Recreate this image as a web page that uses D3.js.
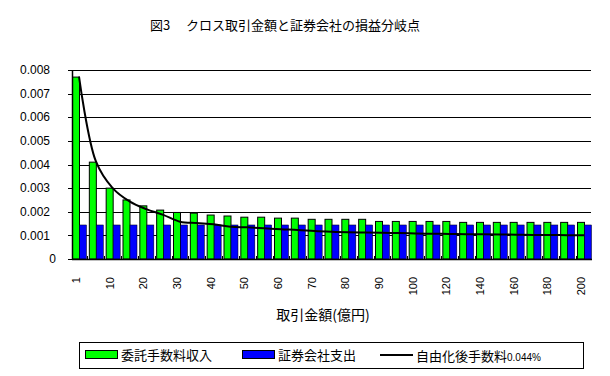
<!DOCTYPE html>
<html>
<head>
<meta charset="utf-8">
<script src="https://cdn.jsdelivr.net/npm/d3@7"></script>
<style>
  body { margin: 0; background: #fff; }
  text { font-family: "Liberation Sans", Arial, "Noto Sans CJK JP", sans-serif; fill: #000; }
  .jp { font-family: "Noto Sans CJK JP", sans-serif; }
</style>
</head>
<body>
<div id="chart"></div>
<script>
// 取引金額(億円)
const amounts = [1, 5, 10, 15, 20, 25, 30, 35, 40, 45, 50, 55, 60, 65, 70, 75, 80, 85, 90, 95, 100,
  110, 120, 130, 140, 150, 160, 170, 180, 190, 200];
// 委託手数料収入
const commission = [0.0077, 0.0041, 0.0030, 0.0025, 0.00225, 0.00207, 0.00197, 0.00194, 0.00186, 0.00182,
  0.00177, 0.00177, 0.00173, 0.00173, 0.00168, 0.00168, 0.00168, 0.00168, 0.00159, 0.00159, 0.00159,
  0.00159, 0.00159, 0.00155, 0.00155, 0.00155, 0.00155, 0.00155, 0.00155, 0.00155, 0.00155];
// 証券会社支出
const expense = [0.00144, 0.00144, 0.00144, 0.00144, 0.00144, 0.00144, 0.00144, 0.00144, 0.00144, 0.00144,
  0.00144, 0.00144, 0.00144, 0.00144, 0.00144, 0.00144, 0.00144, 0.00144, 0.00144, 0.00144, 0.00144,
  0.00144, 0.00144, 0.00144, 0.00144, 0.00144, 0.00144, 0.00144, 0.00144, 0.00144, 0.00144];
// 自由化後手数料0.044%
const feeAfter = [0.00772, 0.00414, 0.00300, 0.00244, 0.00211, 0.00187, 0.00158, 0.00152, 0.00147, 0.00137,
  0.00134, 0.0013, 0.00126, 0.00123, 0.00118, 0.00115, 0.00113, 0.00112, 0.00111, 0.0011, 0.00108,
  0.00107, 0.00106, 0.00105, 0.00105, 0.00104, 0.00103, 0.00102, 0.00102, 0.00101, 0.00101];
const yTicks = [0, 0.001, 0.002, 0.003, 0.004, 0.005, 0.006, 0.007, 0.008];
const xLabels = [1, 10, 20, 30, 40, 50, 60, 70, 80, 90, 100, 120, 140, 160, 180, 200];

const chartWidth = 610, chartHeight = 376;
const plotLeft = 72, plotRight = 591, plotTop = 70, plotBottom = 259;

const svg = d3.select('#chart').append('svg')
  .attr('width', chartWidth)
  .attr('height', chartHeight);

const x = d3.scaleBand()
  .domain(amounts)
  .range([plotLeft, plotRight])
  .paddingInner(0.168)
  .paddingOuter(0);

const y = d3.scaleLinear()
  .domain([0, 0.008])
  .range([plotBottom, plotTop]);

const bw = x.bandwidth() / 2;

// Gridlines
svg.append('g')
  .selectAll('line')
  .data(yTicks.slice(1))
  .enter()
  .append('line')
  .attr('x1', plotLeft).attr('x2', plotRight)
  .attr('y1', d => Math.round(y(d)) + 0.5)
  .attr('y2', d => Math.round(y(d)) + 0.5)
  .attr('stroke', '#000');

// Y labels
svg.append('g')
  .selectAll('text')
  .data(yTicks)
  .enter()
  .append('text')
  .attr('x', d => d === 0 ? 56 : 50)
  .attr('y', d => y(d))
  .attr('dy', '0.35em')
  .attr('text-anchor', 'end')
  .attr('font-size', '12px')
  .text(d => d === 0 ? '0' : d3.format('.3f')(d));

// y tick marks
svg.append('g')
  .selectAll('line')
  .data(yTicks)
  .enter()
  .append('line')
  .attr('x1', plotLeft - 4).attr('x2', plotLeft)
  .attr('y1', d => Math.round(y(d)) + 0.5)
  .attr('y2', d => Math.round(y(d)) + 0.5)
  .attr('stroke', '#000');

// Bars
svg.append('g')
  .selectAll('rect')
  .data(commission)
  .enter()
  .append('rect')
  .attr('x', (d, i) => x(amounts[i]) + 0.5)
  .attr('y', d => y(d))
  .attr('width', bw)
  .attr('height', d => plotBottom - y(d))
  .attr('fill', '#00ff00')
  .attr('stroke', '#000')
  .attr('stroke-width', 1);

svg.append('g')
  .selectAll('rect')
  .data(expense)
  .enter()
  .append('rect')
  .attr('x', (d, i) => x(amounts[i]) + bw + 0.5)
  .attr('y', d => y(d))
  .attr('width', bw)
  .attr('height', d => plotBottom - y(d))
  .attr('fill', '#0000ff')
  .attr('stroke', '#000')
  .attr('stroke-width', 0.5);

// Axes lines
svg.append('line')
  .attr('x1', plotLeft + 0.5).attr('x2', plotLeft + 0.5)
  .attr('y1', plotTop).attr('y2', plotBottom)
  .attr('stroke', '#000').attr('stroke-width', 1.5);
svg.append('line')
  .attr('x1', plotLeft).attr('x2', plotRight + 1)
  .attr('y1', plotBottom + 0.5).attr('y2', plotBottom + 0.5)
  .attr('stroke', '#000').attr('stroke-width', 1.5);

// x tick marks between groups
const gap = x.step() - x.bandwidth();
svg.append('g')
  .selectAll('line')
  .data(amounts.slice(1))
  .enter()
  .append('line')
  .attr('x1', d => Math.round(x(d) - gap / 2) + 0.5)
  .attr('x2', d => Math.round(x(d) - gap / 2) + 0.5)
  .attr('y1', plotBottom - 3).attr('y2', plotBottom)
  .attr('stroke', '#000');

// Line
const line = d3.line()
  .x((d, i) => x(amounts[i]) + x.bandwidth() / 2)
  .y(d => y(d))
  .curve(d3.curveCatmullRom);

svg.append('path')
  .datum(feeAfter)
  .attr('d', line)
  .attr('fill', 'none')
  .attr('stroke', '#000')
  .attr('stroke-width', 2);

// X labels
svg.append('g')
  .selectAll('text')
  .data(xLabels)
  .enter()
  .append('text')
  .attr('transform', d => 'translate(' + (x(d) + x.bandwidth() / 2 - 3) + ',277) rotate(-90)')
  .attr('dy', '0.35em')
  .attr('text-anchor', 'end')
  .attr('font-size', '11px')
  .text(d => d);

// Title
svg.append('text')
  .attr('class', 'jp')
  .attr('x', 285)
  .attr('y', 25)
  .attr('dy', '0.35em')
  .attr('text-anchor', 'middle')
  .attr('font-size', '13px')
  .text('図3　 クロス取引金額と証券会社の損益分岐点');

// X axis title
svg.append('text')
  .attr('class', 'jp')
  .attr('x', 323)
  .attr('y', 315)
  .attr('dy', '0.35em')
  .attr('text-anchor', 'middle')
  .attr('font-size', '14px')
  .text('取引金額(億円)');

// Legend
const legend = svg.append('g');
legend.append('rect')
  .attr('x', 79.5).attr('y', 342.5)
  .attr('width', 504).attr('height', 26)
  .attr('fill', '#fff').attr('stroke', '#000');

legend.append('rect')
  .attr('x', 85.5).attr('y', 350.5).attr('width', 32).attr('height', 8)
  .attr('fill', '#00ff00').attr('stroke', '#000');
legend.append('text')
  .attr('class', 'jp')
  .attr('x', 121).attr('y', 355).attr('dy', '0.35em')
  .attr('font-size', '13px')
  .text('委託手数料収入');

legend.append('rect')
  .attr('x', 242.5).attr('y', 350.5).attr('width', 32).attr('height', 8)
  .attr('fill', '#0000ff').attr('stroke', '#000');
legend.append('text')
  .attr('class', 'jp')
  .attr('x', 278).attr('y', 355).attr('dy', '0.35em')
  .attr('font-size', '13px')
  .text('証券会社支出');

legend.append('line')
  .attr('x1', 380).attr('x2', 413)
  .attr('y1', 355).attr('y2', 355)
  .attr('stroke', '#000').attr('stroke-width', 2);
const lt = legend.append('text')
  .attr('x', 416).attr('y', 355).attr('dy', '0.35em');
lt.append('tspan').attr('class', 'jp').attr('font-size', '13px').text('自由化後手数料');
lt.append('tspan').attr('font-size', '10px').text('0.044%');
</script>
</body>
</html>
